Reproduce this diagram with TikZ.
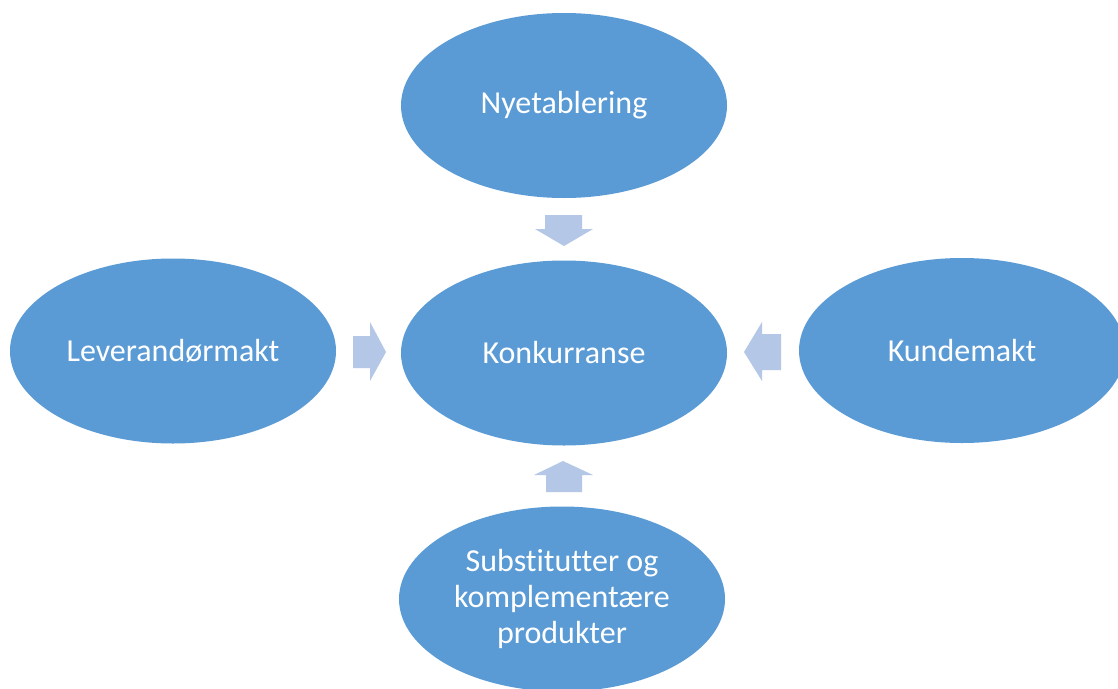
\documentclass[tikz,border=0pt]{standalone}
\usepackage{fontspec}
\setmainfont[Ligatures=NoCommon]{Carlito}
\usetikzlibrary{shapes.geometric}
\definecolor{ellblue}{HTML}{5B9BD5}
\definecolor{arrblue}{HTML}{B4C7E7}
\begin{document}
\begin{tikzpicture}[x=1pt,y=-1pt,
  bubble/.style={ellipse,fill=ellblue,draw=none,inner sep=0pt,
    minimum width=326pt,minimum height=185pt,text=white,align=center,
    font=\fontsize{32}{36}\selectfont},
  blockarrow/.style={fill=arrblue,draw=none}]
\useasboundingbox (0,0) rectangle (1118,688);
\clip (0,0) rectangle (1118,688);
\fill[white] (0,0) rectangle (1118,688);
\node[bubble] (ny) at (564,105.5) {Nyetablering};
\node[bubble] (ko) at (564,353) {Konkurranse};
\node[bubble] (le) at (173,351) {Leverandørmakt};
\node[bubble] (ku) at (962,350.5) {Kundemakt};
\node[bubble] (su) at (562,599) {Substitutter og\\komplementære\\produkter};
% down arrow
\fill[blockarrow] (545,215) -- (582,215) -- (582,229) -- (593,229) -- (564,246) -- (535,229) -- (545,229) -- cycle;
% right arrow
\fill[blockarrow] (353,336) -- (370,336) -- (370,322) -- (386,352) -- (370,381) -- (370,368) -- (353,368) -- cycle;
% left arrow
\fill[blockarrow] (781,334) -- (762,334) -- (762,322) -- (744,352) -- (762,381) -- (762,370) -- (781,370) -- cycle;
% up arrow
\fill[blockarrow] (546,492) -- (546,475) -- (534,475) -- (563,461) -- (593,475) -- (582,475) -- (582,492) -- cycle;
\end{tikzpicture}
\end{document}
